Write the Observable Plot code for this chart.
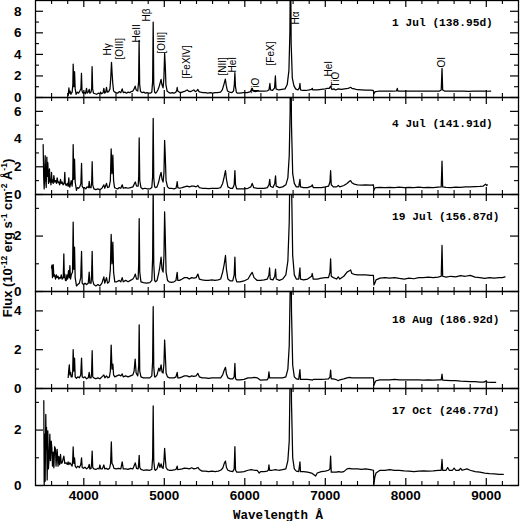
<!DOCTYPE html>
<html>
<head>
<meta charset="utf-8">
<script src="https://cdn.jsdelivr.net/npm/d3@7"></script>
<script src="https://cdn.jsdelivr.net/npm/@observablehq/plot@0.6"></script>
<style>
  html, body { margin: 0; padding: 0; background: white; }
  #wrap { position: relative; width: 520px; height: 521px; }
  #ylab { position: absolute; left: 7px; top: 238px; transform: translate(-50%, -50%) rotate(-90deg);
          white-space: nowrap; font: bold 13px "Liberation Sans", Arial, sans-serif; color: #000; line-height: 1; }
  #ylab sup { font-size: 8.5px; vertical-align: 5px; }
</style>
</head>
<body>
<div id="wrap"><div id="ylab">Flux (10<sup>-12</sup> erg s<sup>-1</sup> cm<sup>-2</sup> Å<sup>-1</sup>)</div></div>
<script>
// ---- data: [wavelength (Å), flux (1e-12 erg s-1 cm-2 Å-1)] ----
const spec1Jul = [[3806,0.2],[3815,0.9],[3820,0.4],[3830,0.6],[3840,0.3],[3855,0.5],[3864,1.2],[3868,3.1],[3876,1.0],[3885,2.4],[3893,0.8],[3905,0.3],[3920,0.5],[3935,0.4],[3950,0.6],[3964,0.8],[3971,2.25],[3978,0.6],[3990,0.4],[4005,0.5],[4020,0.35],[4034,0.85],[4042,0.4],[4055,0.5],[4067,0.75],[4075,0.4],[4090,0.5],[4098,0.9],[4103,2.87],[4110,0.8],[4120,0.4],[4140,0.35],[4160,0.3],[4180,0.4],[4200,0.35],[4208,0.5],[4220,0.35],[4240,0.45],[4249,0.85],[4260,0.4],[4272,0.5],[4282,0.93],[4292,0.5],[4310,0.55],[4325,0.8],[4335,1.8],[4344,3.27],[4352,2.2],[4360,1.3],[4370,0.6],[4385,0.5],[4400,0.45],[4420,0.4],[4440,0.55],[4460,0.45],[4477,0.8],[4490,0.45],[4510,0.5],[4530,0.4],[4550,0.5],[4570,0.45],[4590,0.55],[4610,0.6],[4625,0.8],[4638,1.05],[4650,0.7],[4670,0.6],[4681,1.5],[4687,5.3],[4694,1.2],[4705,0.55],[4725,0.45],[4745,0.5],[4765,0.4],[4785,0.45],[4805,0.4],[4825,0.4],[4845,0.5],[4855,1.5],[4862,7.0],[4869,1.3],[4880,0.5],[4891,0.4],[4905,0.5],[4920,0.7],[4935,1.0],[4950,1.4],[4960,1.68],[4970,1.2],[4985,0.9],[4995,1.8],[5004,4.1],[5012,3.0],[5020,1.2],[5035,0.6],[5057,0.45],[5080,0.4],[5100,0.45],[5120,0.4],[5145,0.5],[5155,0.7],[5160,0.93],[5167,0.6],[5185,0.5],[5205,0.45],[5222,0.5],[5240,0.55],[5260,0.6],[5284,0.7],[5300,0.6],[5320,0.55],[5340,0.6],[5367,0.7],[5385,0.55],[5400,0.6],[5417,0.75],[5430,0.55],[5450,0.5],[5480,0.45],[5510,0.45],[5540,0.4],[5574,0.45],[5600,0.4],[5630,0.45],[5660,0.45],[5699,0.5],[5720,0.7],[5740,1.2],[5758,1.7],[5770,1.1],[5785,0.6],[5810,0.5],[5840,0.45],[5860,0.6],[5870,1.2],[5877,2.3],[5884,1.0],[5895,0.5],[5906,0.4],[5940,0.4],[5980,0.45],[6030,0.45],[6070,0.55],[6085,0.75],[6092,0.85],[6105,0.6],[6130,0.55],[6154,0.6],[6196,0.6],[6240,0.6],[6279,0.62],[6300,0.7],[6312,1.3],[6320,0.7],[6345,0.65],[6370,0.9],[6380,2.0],[6388,0.8],[6420,0.7],[6460,0.75],[6500,0.8],[6527,1.2],[6548,2.5],[6560,6],[6568,14],[6576,5],[6590,1.8],[6610,1.1],[6631,0.8],[6660,0.7],[6678,0.9],[6685,1.3],[6692,0.7],[6720,0.65],[6760,0.65],[6800,0.7],[6830,0.75],[6838,0.85],[6846,0.7],[6900,0.7],[6950,0.75],[7000,0.8],[7024,0.85],[7050,0.85],[7066,1.05],[7080,0.75],[7110,0.8],[7128,0.7],[7161,0.8],[7200,0.75],[7240,0.8],[7281,0.85],[7300,0.9],[7314,0.95],[7330,0.85],[7360,0.8],[7397,0.72],[7450,0.7],[7500,0.68],[7560,0.68],[7595,0.66],[7604,0.35],[7615,0.5],[7625,0.55],[7660,0.58],[7720,0.58],[7780,0.6],[7840,0.58],[7885,0.62],[7894,0.85],[7902,0.6],[7950,0.58],[8000,0.6],[8060,0.58],[8120,0.6],[8180,0.58],[8240,0.6],[8300,0.58],[8360,0.6],[8420,0.6],[8440,0.7],[8450,2.7],[8458,0.7],[8480,0.6],[8540,0.58],[8600,0.6],[8660,0.58],[8720,0.6],[8780,0.57],[8840,0.6],[8900,0.58],[8960,0.6],[9010,0.58],[9054,0.6]];

const spec4Jul = [[3495,3.6],[3502,1.2],[3508,0.4],[3514,1.6],[3520,2.8],[3527,1.0],[3533,0.5],[3541,2.7],[3547,1.3],[3553,2.3],[3562,0.8],[3568,1.5],[3574,1.85],[3580,0.9],[3586,1.1],[3592,0.7],[3599,1.6],[3605,0.9],[3611,1.05],[3620,0.8],[3628,1.37],[3638,0.9],[3649,1.0],[3660,0.8],[3669,1.2],[3680,0.85],[3690,0.9],[3700,0.7],[3711,1.1],[3720,0.8],[3731,0.9],[3742,0.7],[3752,0.77],[3758,0.9],[3764,1.6],[3770,0.8],[3781,0.65],[3794,0.8],[3805,0.6],[3814,1.2],[3820,0.6],[3827,0.53],[3843,1.0],[3855,0.6],[3863,1.2],[3868,3.6],[3876,1.1],[3885,2.56],[3893,0.9],[3909,0.3],[3920,0.5],[3935,0.45],[3950,0.55],[3964,0.8],[3972,2.25],[3979,0.6],[3995,0.45],[4010,0.5],[4025,0.4],[4040,0.55],[4060,0.5],[4067,0.95],[4075,0.5],[4090,0.5],[4098,0.9],[4104,2.37],[4111,0.7],[4125,0.4],[4150,0.35],[4175,0.4],[4200,0.35],[4225,0.45],[4249,0.7],[4260,0.45],[4282,0.8],[4295,0.5],[4315,0.55],[4330,1.0],[4340,3.3],[4350,1.5],[4361,2.85],[4370,1.0],[4382,0.5],[4400,0.45],[4420,0.4],[4440,0.5],[4460,0.45],[4477,0.7],[4490,0.45],[4520,0.5],[4550,0.45],[4580,0.5],[4610,0.55],[4630,0.8],[4640,0.9],[4655,0.6],[4675,0.6],[4682,1.3],[4688,4.08],[4695,1.0],[4710,0.5],[4730,0.4],[4760,0.45],[4790,0.4],[4820,0.4],[4845,0.5],[4855,1.3],[4862,5.5],[4869,1.2],[4880,0.55],[4891,0.5],[4910,0.55],[4930,0.9],[4945,1.3],[4960,1.6],[4972,1.1],[4985,0.9],[4996,1.6],[5004,3.9],[5012,2.8],[5022,1.0],[5040,0.55],[5060,0.45],[5090,0.45],[5120,0.4],[5145,0.45],[5155,0.7],[5160,0.93],[5168,0.5],[5190,0.45],[5222,0.5],[5250,0.55],[5284,0.6],[5310,0.55],[5340,0.6],[5367,0.6],[5395,0.55],[5417,0.65],[5435,0.5],[5470,0.45],[5510,0.45],[5550,0.42],[5590,0.45],[5630,0.45],[5670,0.45],[5700,0.5],[5725,0.8],[5745,1.3],[5760,1.73],[5772,1.1],[5790,0.55],[5820,0.45],[5850,0.45],[5868,0.7],[5877,1.73],[5885,0.7],[5900,0.4],[5940,0.4],[5990,0.4],[6040,0.45],[6075,0.55],[6092,0.8],[6110,0.5],[6154,0.45],[6196,0.45],[6240,0.45],[6280,0.5],[6300,0.7],[6310,1.1],[6318,0.6],[6350,0.5],[6372,0.8],[6382,1.35],[6390,0.6],[6430,0.5],[6470,0.55],[6510,0.7],[6535,1.2],[6552,2.8],[6563,6],[6570,13],[6580,5],[6595,1.5],[6615,0.8],[6640,0.55],[6670,0.55],[6685,1.1],[6692,0.55],[6730,0.5],[6780,0.5],[6830,0.6],[6838,0.7],[6850,0.5],[6900,0.5],[6950,0.5],[7000,0.55],[7040,0.6],[7058,0.9],[7066,1.73],[7074,0.7],[7100,0.55],[7140,0.55],[7161,0.65],[7180,0.55],[7230,0.65],[7270,0.8],[7300,0.95],[7314,1.0],[7330,0.85],[7360,0.75],[7400,0.7],[7450,0.68],[7500,0.7],[7560,0.68],[7598,0.7],[7604,0.3],[7615,0.45],[7630,0.5],[7680,0.52],[7740,0.5],[7800,0.52],[7860,0.5],[7920,0.53],[7980,0.5],[8040,0.52],[8100,0.5],[8160,0.53],[8220,0.5],[8280,0.52],[8340,0.5],[8400,0.53],[8440,0.55],[8450,2.4],[8458,0.55],[8500,0.52],[8560,0.5],[8620,0.53],[8680,0.52],[8740,0.55],[8800,0.55],[8860,0.57],[8920,0.58],[8960,0.6],[8990,0.75],[9005,0.65],[9012,0.7]];

const spec19Jul = [[3599,0.85],[3604,0.95],[3611,0.5],[3620,0.97],[3628,0.55],[3638,0.6],[3649,0.45],[3660,0.6],[3669,0.5],[3680,0.55],[3690,0.45],[3700,0.5],[3711,0.48],[3720,0.6],[3731,0.45],[3745,0.5],[3752,1.36],[3758,0.5],[3764,0.63],[3772,0.4],[3781,0.39],[3790,0.6],[3800,0.45],[3810,0.75],[3820,0.5],[3827,0.93],[3835,0.45],[3845,0.6],[3860,0.7],[3868,2.5],[3876,0.8],[3885,1.6],[3893,0.5],[3909,0.2],[3925,0.25],[3945,0.3],[3962,0.5],[3972,1.45],[3980,0.3],[3995,0.25],[4015,0.3],[4035,0.25],[4055,0.3],[4067,0.7],[4075,0.3],[4090,0.3],[4097,0.6],[4104,1.45],[4111,0.4],[4125,0.25],[4150,0.2],[4175,0.25],[4200,0.2],[4225,0.3],[4249,0.53],[4260,0.3],[4282,0.5],[4295,0.3],[4315,0.35],[4330,0.8],[4340,2.06],[4350,1.0],[4361,1.78],[4370,0.7],[4385,0.35],[4410,0.35],[4440,0.4],[4460,0.35],[4477,0.5],[4490,0.35],[4520,0.4],[4550,0.35],[4580,0.4],[4610,0.45],[4630,0.55],[4640,0.63],[4655,0.45],[4675,0.45],[4682,1.0],[4688,2.63],[4695,0.7],[4710,0.35],[4740,0.32],[4780,0.3],[4820,0.32],[4845,0.4],[4855,1.2],[4862,3.8],[4869,1.0],[4880,0.4],[4891,0.35],[4910,0.4],[4930,0.65],[4945,0.9],[4960,1.24],[4972,0.8],[4985,0.7],[4996,1.3],[5004,2.87],[5012,2.0],[5022,0.7],[5040,0.4],[5060,0.35],[5090,0.33],[5120,0.35],[5145,0.4],[5160,0.69],[5168,0.4],[5190,0.4],[5222,0.45],[5250,0.5],[5284,0.5],[5310,0.45],[5340,0.5],[5367,0.48],[5395,0.5],[5417,0.63],[5435,0.45],[5470,0.42],[5510,0.4],[5550,0.4],[5590,0.42],[5630,0.4],[5670,0.42],[5700,0.45],[5725,0.7],[5745,1.0],[5760,1.3],[5772,0.8],[5790,0.45],[5820,0.38],[5850,0.38],[5868,0.6],[5877,1.24],[5885,0.5],[5900,0.35],[5940,0.35],[5990,0.38],[6040,0.45],[6070,0.6],[6092,0.69],[6115,0.5],[6154,0.4],[6196,0.4],[6240,0.42],[6280,0.45],[6300,0.6],[6308,0.85],[6316,0.45],[6350,0.42],[6372,0.55],[6382,0.81],[6390,0.45],[6430,0.4],[6470,0.45],[6510,0.6],[6535,1.1],[6552,2.5],[6563,5],[6570,9],[6580,4],[6595,1.3],[6615,0.6],[6640,0.45],[6670,0.45],[6685,0.85],[6692,0.45],[6730,0.42],[6780,0.45],[6830,0.55],[6838,0.65],[6850,0.45],[6900,0.45],[6950,0.48],[7000,0.5],[7040,0.5],[7058,0.7],[7066,1.18],[7074,0.55],[7100,0.5],[7140,0.45],[7161,0.53],[7180,0.45],[7230,0.55],[7270,0.7],[7300,0.75],[7314,0.78],[7330,0.65],[7360,0.62],[7400,0.6],[7450,0.6],[7500,0.6],[7560,0.58],[7598,0.58],[7604,0.24],[7615,0.3],[7630,0.42],[7680,0.48],[7740,0.5],[7800,0.48],[7860,0.5],[7920,0.47],[7980,0.45],[8040,0.48],[8100,0.46],[8160,0.5],[8220,0.5],[8280,0.52],[8340,0.5],[8400,0.52],[8440,0.55],[8450,1.66],[8458,0.55],[8500,0.52],[8560,0.55],[8620,0.53],[8680,0.57],[8740,0.55],[8800,0.58],[8860,0.52],[8920,0.5],[8980,0.47],[9040,0.5],[9100,0.48],[9160,0.5],[9200,0.5],[9232,0.53]];

const spec18Aug = [[3806,0.57],[3812,0.9],[3820,1.22],[3827,0.7],[3835,0.83],[3843,0.6],[3855,0.6],[3862,0.9],[3868,2.0],[3876,0.9],[3885,1.57],[3893,0.6],[3909,0.53],[3925,0.6],[3945,0.55],[3962,0.7],[3972,1.57],[3980,0.6],[3995,0.55],[4015,0.6],[4035,0.5],[4055,0.55],[4067,0.83],[4075,0.55],[4090,0.55],[4097,0.8],[4104,1.95],[4111,0.6],[4125,0.55],[4150,0.5],[4175,0.55],[4200,0.5],[4225,0.6],[4249,0.7],[4262,0.55],[4282,0.65],[4300,0.55],[4318,0.6],[4330,0.9],[4340,2.24],[4350,1.0],[4361,1.26],[4370,0.7],[4385,0.6],[4410,0.65],[4440,0.7],[4460,0.65],[4477,0.75],[4490,0.6],[4520,0.65],[4550,0.6],[4580,0.65],[4610,0.7],[4625,0.9],[4638,1.52],[4650,0.8],[4670,0.65],[4682,1.2],[4688,3.28],[4695,0.9],[4710,0.6],[4740,0.55],[4780,0.55],[4820,0.55],[4845,0.65],[4855,1.4],[4862,4.22],[4869,1.1],[4880,0.6],[4891,0.6],[4910,0.7],[4932,1.05],[4945,0.9],[4960,1.22],[4972,0.85],[4985,0.8],[4996,1.3],[5004,2.5],[5012,1.8],[5022,0.8],[5040,0.6],[5060,0.55],[5090,0.55],[5120,0.55],[5145,0.6],[5160,0.83],[5168,0.55],[5190,0.55],[5222,0.6],[5250,0.65],[5284,0.65],[5310,0.6],[5340,0.65],[5367,0.62],[5395,0.65],[5417,0.78],[5435,0.6],[5470,0.55],[5510,0.55],[5550,0.52],[5590,0.55],[5630,0.55],[5670,0.55],[5700,0.55],[5725,0.7],[5745,0.95],[5760,1.09],[5772,0.75],[5790,0.55],[5820,0.5],[5850,0.5],[5868,0.6],[5877,1.29],[5885,0.5],[5900,0.45],[5940,0.45],[5990,0.47],[6040,0.55],[6080,0.55],[6120,0.57],[6154,0.55],[6196,0.43],[6240,0.45],[6279,0.45],[6292,0.55],[6300,0.86],[6308,0.55],[6340,0.55],[6380,0.55],[6420,0.55],[6470,0.55],[6510,0.6],[6535,1.0],[6552,2.2],[6563,5],[6570,10],[6580,4],[6595,1.2],[6615,0.6],[6640,0.5],[6670,0.47],[6685,0.97],[6692,0.47],[6730,0.47],[6780,0.47],[6830,0.45],[6838,0.43],[6850,0.47],[6900,0.47],[6950,0.47],[7000,0.48],[7040,0.5],[7058,0.6],[7066,0.95],[7074,0.5],[7100,0.5],[7140,0.45],[7161,0.4],[7180,0.45],[7230,0.5],[7270,0.55],[7300,0.57],[7330,0.55],[7360,0.55],[7400,0.55],[7450,0.55],[7500,0.55],[7560,0.55],[7598,0.55],[7604,0.17],[7615,0.3],[7630,0.4],[7680,0.45],[7740,0.45],[7800,0.45],[7860,0.47],[7920,0.45],[7980,0.45],[8040,0.45],[8100,0.44],[8160,0.45],[8220,0.43],[8280,0.44],[8340,0.43],[8400,0.44],[8440,0.45],[8450,0.74],[8458,0.43],[8500,0.42],[8560,0.4],[8620,0.4],[8680,0.38],[8740,0.37],[8800,0.35],[8860,0.35],[8920,0.33],[8970,0.33],[9000,0.4],[9010,0.33],[9060,0.32],[9116,0.31]];

const spec17Oct = [[3503,3.06],[3508,0.0],[3514,1.85],[3520,0.15],[3528,2.57],[3533,1.3],[3537,2.1],[3545,0.2],[3553,1.97],[3560,0.6],[3570,1.0],[3578,1.85],[3586,0.9],[3595,1.6],[3603,1.36],[3611,0.7],[3620,1.2],[3628,0.64],[3638,1.4],[3649,1.3],[3655,0.7],[3669,1.3],[3680,0.7],[3690,1.05],[3700,0.75],[3711,1.12],[3720,0.8],[3731,0.82],[3742,0.95],[3752,1.06],[3764,0.8],[3781,0.82],[3794,0.76],[3805,0.85],[3814,0.75],[3827,0.82],[3843,0.75],[3855,0.7],[3862,0.9],[3868,1.39],[3876,0.8],[3885,1.0],[3893,0.7],[3909,0.64],[3925,0.7],[3945,0.65],[3962,0.75],[3972,1.0],[3980,0.65],[3995,0.62],[4015,0.66],[4035,0.6],[4055,0.65],[4067,0.76],[4075,0.6],[4090,0.62],[4097,0.8],[4104,1.24],[4111,0.65],[4125,0.6],[4150,0.58],[4175,0.62],[4190,0.6],[4200,0.74],[4210,0.6],[4230,0.6],[4249,0.74],[4260,0.6],[4282,0.62],[4300,0.58],[4320,0.62],[4333,0.8],[4342,1.57],[4350,0.8],[4361,0.75],[4375,0.62],[4400,0.6],[4430,0.62],[4460,0.6],[4477,0.85],[4490,0.6],[4520,0.6],[4550,0.58],[4580,0.62],[4610,0.6],[4630,0.75],[4640,0.82],[4655,0.62],[4675,0.6],[4682,0.8],[4688,1.09],[4695,0.65],[4710,0.58],[4740,0.55],[4780,0.56],[4820,0.55],[4845,0.58],[4855,1.0],[4862,2.87],[4869,0.9],[4880,0.58],[4891,0.55],[4910,0.6],[4932,0.82],[4945,0.65],[4960,0.78],[4972,0.65],[4985,0.62],[4996,0.9],[5004,1.34],[5012,1.0],[5022,0.65],[5040,0.57],[5060,0.55],[5090,0.55],[5120,0.56],[5145,0.58],[5160,0.7],[5168,0.57],[5190,0.58],[5222,0.6],[5250,0.63],[5284,0.62],[5310,0.6],[5340,0.64],[5367,0.6],[5395,0.62],[5417,0.65],[5435,0.58],[5470,0.52],[5510,0.52],[5550,0.5],[5590,0.52],[5630,0.5],[5670,0.52],[5700,0.55],[5725,0.62],[5745,0.8],[5760,0.88],[5772,0.65],[5790,0.55],[5820,0.52],[5850,0.5],[5868,0.6],[5877,1.4],[5885,0.55],[5900,0.48],[5940,0.48],[5990,0.5],[6040,0.55],[6080,0.57],[6120,0.55],[6154,0.55],[6180,0.45],[6196,0.5],[6240,0.5],[6279,0.52],[6292,0.55],[6300,0.74],[6308,0.55],[6340,0.55],[6380,0.57],[6420,0.55],[6470,0.57],[6510,0.6],[6535,0.9],[6552,1.6],[6563,4],[6570,8],[6580,3],[6595,1.0],[6615,0.6],[6640,0.52],[6670,0.5],[6685,0.85],[6692,0.5],[6730,0.5],[6780,0.48],[6830,0.45],[6880,0.34],[6900,0.45],[6950,0.5],[7000,0.52],[7040,0.55],[7058,0.6],[7066,1.06],[7074,0.48],[7100,0.48],[7140,0.48],[7161,0.5],[7200,0.48],[7230,0.5],[7270,0.6],[7300,0.62],[7330,0.6],[7360,0.6],[7400,0.6],[7450,0.58],[7500,0.6],[7560,0.57],[7598,0.55],[7604,0.05],[7615,0.3],[7630,0.45],[7680,0.55],[7740,0.55],[7800,0.57],[7860,0.55],[7920,0.55],[7980,0.53],[8040,0.52],[8100,0.5],[8160,0.52],[8220,0.53],[8280,0.52],[8340,0.53],[8400,0.55],[8440,0.55],[8450,0.94],[8458,0.55],[8500,0.55],[8520,0.65],[8540,0.55],[8580,0.55],[8600,0.63],[8620,0.55],[8660,0.55],[8680,0.62],[8700,0.55],[8760,0.6],[8800,0.55],[8860,0.5],[8920,0.48],[8980,0.45],[9040,0.43],[9100,0.42],[9160,0.4],[9211,0.4]];

const dates = ["1 Jul (138.95d)", "4 Jul (141.91d)", "19 Jul (156.87d)", "18 Aug (186.92d)", "17 Oct (246.77d)"];
const dateY = [7.0, 5.1, 2.7, 3.55, 2.7];       // label height in each panel's flux units
const yMax = [9, 7, 3.5, 5, 3.5];
const yMajor = [[0,2,4,6,8],[0,2,4,6],[0,2],[0,2,4],[0,2]];
const yMinor = [[1,3,5,7],[1,3,5],[1,3],[1,3],[1,3]];
const xMajor = [4000,5000,6000,7000,8000,9000];
const xMinor = [3600,3800,4200,4400,4600,4800,5200,5400,5600,5800,6200,6400,6600,6800,7200,7400,7600,7800,8200,8400,8600,8800,9200];

// line identifications (top panel): name, wavelength position, flux position (bottom of label)
const lineNames = ["Hγ","[OIII]","HeII","Hβ","[OIII]","[FeXIV]","[NII]","HeI","TiO","[FeX]","Hα","HeI","TiO","OI"];
const lineWl    = [4298,4444,4655,4788,4966,5285,5732,5852,6134,6320,6631,7045,7128,8453];
const lineFlux  = [3.9,3.52,5.1,7.05,4.08,1.76,2.04,2.32,0.37,2.97,6.77,1.95,0.93,2.78];

const spectra = [spec1Jul, spec4Jul, spec19Jul, spec18Aug, spec17Oct];
const lineIds = lineNames.map((n, i) => ({name: n, wl: lineWl[i], f: lineFlux[i]}));

const W = 520, H = 97, ML = 35, MR = 2;
const FW = W - ML - MR;
const sans = "'Liberation Sans', Arial, Helvetica, sans-serif";
const mono = "'Liberation Mono', 'Courier New', monospace";

function panel(i) {
  const last = i === spectra.length - 1;
  const MB = last ? 36 : 0;
  const marks = [
    Plot.line(spectra[i], {x: d => d[0], y: d => d[1], stroke: "#000", strokeWidth: 1.25, clip: true}),
    Plot.frame({stroke: "#000", strokeWidth: 1.3}),
    Plot.tickX(xMajor, {x: d => d, insetTop: H - 7, strokeWidth: 1.2}),
    Plot.tickX(xMajor, {x: d => d, insetBottom: H - 7, strokeWidth: 1.2}),
    Plot.tickX(xMinor, {x: d => d, insetTop: H - 4, strokeWidth: 1.1}),
    Plot.tickX(xMinor, {x: d => d, insetBottom: H - 4, strokeWidth: 1.1}),
    Plot.tickY(yMajor[i], {y: d => d, insetRight: FW - 8, strokeWidth: 1.2}),
    Plot.tickY(yMajor[i], {y: d => d, insetLeft: FW - 8, strokeWidth: 1.2}),
    Plot.tickY(yMinor[i], {y: d => d, insetRight: FW - 4, strokeWidth: 1.1}),
    Plot.tickY(yMinor[i], {y: d => d, insetLeft: FW - 4, strokeWidth: 1.1}),
    Plot.text(yMajor[i], {y: d => d, text: d => String(d), frameAnchor: "left", textAnchor: "end", dx: -14,
      fontSize: 13.5, fontWeight: "bold", fill: "#000"}),
    Plot.text([dates[i]], {x: () => 7830, y: () => dateY[i], text: d => d, textAnchor: "start",
      fontFamily: mono, fontSize: 11.2, fontWeight: "bold", fill: "#000"})
  ];
  if (i === 0) {
    marks.push(Plot.text(lineIds, {x: "wl", y: "f", text: "name", rotate: -90, textAnchor: "start",
      fontSize: 10, fill: "#000"}));
  }
  if (last) {
    marks.push(Plot.text(xMajor, {x: d => d, text: d => String(d), frameAnchor: "bottom", lineAnchor: "top",
      dy: 5, fontSize: 13.5, fontWeight: "bold", fill: "#000"}));
    marks.push(Plot.text(["Wavelength Å"], {frameAnchor: "bottom", text: d => d, lineAnchor: "middle",
      dy: 29, dx: 1, fontFamily: mono, fontSize: 12.5, fontWeight: "bold", fill: "#000"}));
  }
  return Plot.plot({
    width: W, height: H + MB,
    marginLeft: ML, marginRight: MR, marginTop: 0, marginBottom: MB,
    x: {domain: [3400, 9400], axis: null},
    y: {domain: [0, yMax[i]], axis: null},
    style: {background: "transparent", overflow: "visible", display: "block", fontFamily: sans, color: "#000"},
    marks
  });
}

const wrap = document.getElementById("wrap");
spectra.forEach((_, i) => wrap.appendChild(panel(i)));
</script>
</body>
</html>
